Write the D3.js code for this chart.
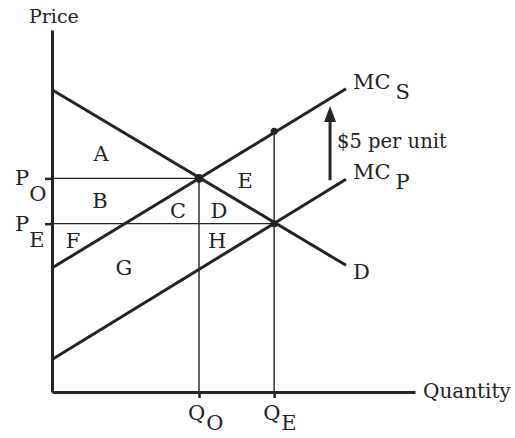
<!DOCTYPE html>
<html>
<head>
<meta charset="utf-8">
<script src="https://cdn.jsdelivr.net/npm/d3@7"></script>
<style>
body{margin:0;background:#fff}
text{font-family:"DejaVu Serif",serif;fill:#222}
</style>
</head>
<body>
<script>
// curves, [quantity, price] endpoints
var demand = [[0, 16.7], [8.1, 7.0]]
var mcPrivate = [[0, 1.8], [8.1, 11.75]]
var mcSocial = [[0, 6.85], [8.1, 16.75]]

// output / price levels
var qLevels = [{name: "O", q: 4.05}, {name: "E", q: 6.12}]
var pLevels = [{name: "O", p: 11.8}, {name: "E", p: 9.3}]

// marked points
var dots = [{q: 4.05, p: 11.8, r: 4.5}, {q: 6.12, p: 9.3, r: 3.5}, {q: 6.12, p: 14.4, r: 3.5}]

// area letters
var areas = [
  {label: "A", q: 1.35, p: 13.2}, {label: "B", q: 1.32, p: 10.6},
  {label: "C", q: 3.47, p: 10.05}, {label: "D", q: 4.6, p: 10.05},
  {label: "E", q: 5.32, p: 11.7}, {label: "F", q: 0.58, p: 8.4},
  {label: "G", q: 1.98, p: 6.9}, {label: "H", q: 4.55, p: 8.4}
]

// tax arrow
var taxArrow = {q: 7.66, from: 11.7, to: 15.8, text: "$5 per unit"}

var width = 515, height = 438
var svg = d3.select("body").append("svg")
  .attr("width", width)
  .attr("height", height)

var x = d3.scaleLinear().domain([0, 10]).range([52, 415])
var y = d3.scaleLinear().domain([0, 20]).range([392, 30])
var ink = "#242424"

// guide lines
var guides = svg.append("g").attr("stroke", ink).attr("stroke-width", 1.4)
guides.append("line").attr("x1", x(0)).attr("x2", x(qLevels[0].q)).attr("y1", y(pLevels[0].p)).attr("y2", y(pLevels[0].p))
guides.append("line").attr("x1", x(0)).attr("x2", x(qLevels[1].q)).attr("y1", y(pLevels[1].p)).attr("y2", y(pLevels[1].p))
guides.append("line").attr("x1", x(qLevels[0].q)).attr("x2", x(qLevels[0].q)).attr("y1", y(pLevels[0].p)).attr("y2", y(0))
guides.append("line").attr("x1", x(qLevels[1].q)).attr("x2", x(qLevels[1].q)).attr("y1", y(dots[2].p)).attr("y2", y(0))

// axes
var xAxis = svg.append("g").attr("transform", "translate(0," + y(0) + ")")
  .call(d3.axisBottom(x).tickValues(qLevels.map(function(d){return d.q})).tickFormat("").tickSizeInner(6).tickSizeOuter(0))
var yAxis = svg.append("g").attr("transform", "translate(" + x(0) + ",0)")
  .call(d3.axisLeft(y).tickValues(pLevels.map(function(d){return d.p})).tickFormat("").tickSizeInner(7).tickSizeOuter(0))
svg.selectAll(".domain").attr("stroke", ink).attr("stroke-width", 3)
svg.selectAll(".tick line").attr("stroke", ink).attr("stroke-width", 2.5)

// curves
var line = d3.line().x(function(d){return x(d[0])}).y(function(d){return y(d[1])})
;[demand, mcPrivate, mcSocial].forEach(function(c){
  svg.append("path").attr("d", line(c)).attr("fill", "none")
    .attr("stroke", ink).attr("stroke-width", 3)
})

// dots
svg.selectAll(".dot").data(dots).enter().append("circle")
  .attr("cx", function(d){return x(d.q)})
  .attr("cy", function(d){return y(d.p)})
  .attr("r", function(d){return d.r})
  .attr("fill", ink)

// arrow
svg.append("line").attr("x1", x(taxArrow.q)).attr("x2", x(taxArrow.q))
  .attr("y1", y(taxArrow.from)).attr("y2", y(taxArrow.to) + 10)
  .attr("stroke", ink).attr("stroke-width", 3)
var ax = x(taxArrow.q), ay = y(taxArrow.to)
svg.append("path").attr("d", "M" + ax + "," + ay + "L" + (ax - 6) + "," + (ay + 16) + "L" + (ax + 6) + "," + (ay + 16) + "Z").attr("fill", ink)
svg.append("text").attr("x", ax + 7).attr("y", 148).attr("font-size", 19.5).text(taxArrow.text)

// area letters
svg.selectAll(".area").data(areas).enter().append("text")
  .attr("x", function(d){return x(d.q)})
  .attr("y", function(d){return y(d.p) + 8})
  .attr("text-anchor", "middle")
  .attr("font-size", 21)
  .text(function(d){return d.label})

// axis titles
svg.append("text").attr("x", 29).attr("y", 23).attr("font-size", 19).text("Price")
svg.append("text").attr("x", 423).attr("y", 398).attr("font-size", 20).text("Quantity")

// price labels
pLevels.forEach(function(d){
  var t = svg.append("text").attr("x", 15).attr("y", y(d.p) + 7).attr("font-size", 21)
  t.append("tspan").text("P")
  t.append("tspan").attr("dx", 0).attr("dy", 16).text(d.name)
})

// quantity labels
qLevels.forEach(function(d){
  var t = svg.append("text").attr("x", x(d.q) - 11).attr("y", 420).attr("font-size", 21)
  t.append("tspan").text("Q")
  t.append("tspan").attr("dx", 1).attr("dy", 10).text(d.name)
})

// curve names
var cl = [{t: "MC", s: "S", c: mcSocial}, {t: "MC", s: "P", c: mcPrivate}, {t: "D", s: "", c: demand}]
cl.forEach(function(d){
  var end = d.c[1]
  var t = svg.append("text").attr("x", x(end[0]) + 7).attr("y", y(end[1]) + (d.s ? 0 : 14)).attr("font-size", 21)
  t.append("tspan").text(d.t)
  if (d.s) t.append("tspan").attr("dx", 5).attr("dy", 10).text(d.s)
})
</script>
</body>
</html>
